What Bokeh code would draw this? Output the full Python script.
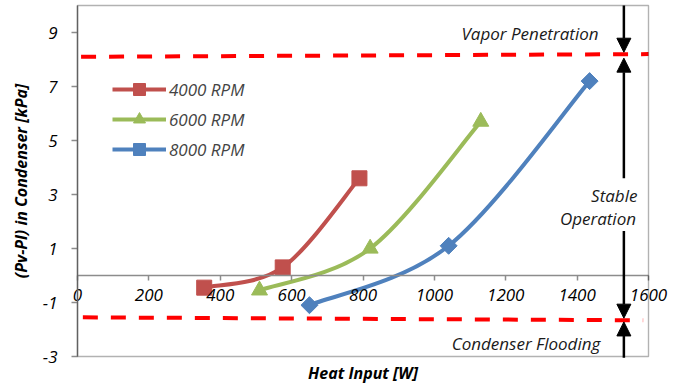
import numpy as np
from bokeh.plotting import figure
from bokeh.models import (ColumnDataSource, Range1d, FixedTicker, Legend, LegendItem,
                          Label, Arrow, NormalHead, BoxAnnotation)
from bokeh.embed import file_html
from bokeh.resources import INLINE

# ---------------- data ----------------
series_labels = ["4000 RPM", "6000 RPM", "8000 RPM"]
x_4000 = [355, 575, 790]
y_4000 = [-0.45, 0.3, 3.6]
x_6000 = [510, 820, 1130]
y_6000 = [-0.55, 1.0, 5.7]
x_8000 = [650, 1040, 1435]
y_8000 = [-1.1, 1.1, 7.2]
x_ticks = [0, 200, 400, 600, 800, 1000, 1200, 1400, 1600]
x_tick_labels = ["0", "200", "400", "600", "800", "1000", "1200", "1400", "1600"]
y_ticks = [-3, -1, 1, 3, 5, 7, 9]
y_tick_labels = ["-3", "-1", "1", "3", "5", "7", "9"]
x_lo, x_hi = 0, 1600
y_lo, y_hi = -3, 10
x_title = "Heat Input [W]"
y_title = "(Pv-Pl) in Condenser [kPa]"

vapor_x = [10, 1600]
vapor_y = [8.1, 8.2]
flood_x = [15, 1585]
flood_y = [-1.55, -1.66]

arrow_x = 1531
arrow_starts = [10.0, 3.6, 1.65, -3.05]
arrow_ends = [8.27, 8.05, -1.58, -1.72]

ann_texts = ["Vapor Penetration", "Stable", "Operation", "Condenser Flooding"]
ann_x = [1460, 1569, 1565, 1465]
ann_y = [8.96, 2.96, 2.11, -2.52]

colors = ["#C0504D", "#9BBB59", "#4F81BD"]
FONT = "Open Sans"

# ---------------- layout (pixels) ----------------
W, H = 679, 385
AREA_L, AREA_R = 77, 648      # plot-area box, page pixels
AREA_T, AREA_B = 5, 356
# the drawing frame covers the whole canvas, so no text is cut at the box edges
ppx = (AREA_R - AREA_L) / (x_hi - x_lo)
ppy = (AREA_B - AREA_T) / (y_hi - y_lo)
fx0 = x_lo - AREA_L / ppx
fx1 = x_hi + (W - AREA_R) / ppx
fy0 = y_lo - (H - AREA_B) / ppy
fy1 = y_hi + AREA_T / ppy


def bezier_source(xs, ys):
    xs = np.asarray(xs, float)
    ys = np.asarray(ys, float)
    n = len(xs)
    d = dict(x0=[], y0=[], x1=[], y1=[], cx0=[], cy0=[], cx1=[], cy1=[])
    for i in range(n - 1):
        pm = max(i - 1, 0)
        pp = min(i + 2, n - 1)
        d["x0"].append(xs[i]); d["y0"].append(ys[i])
        d["x1"].append(xs[i + 1]); d["y1"].append(ys[i + 1])
        d["cx0"].append(xs[i] + (xs[i + 1] - xs[pm]) / 6)
        d["cy0"].append(ys[i] + (ys[i + 1] - ys[pm]) / 6)
        d["cx1"].append(xs[i + 1] - (xs[pp] - xs[i]) / 6)
        d["cy1"].append(ys[i + 1] - (ys[pp] - ys[i]) / 6)
    return ColumnDataSource(d)


p = figure(width=W, height=H, output_backend="svg", toolbar_location=None,
           x_range=Range1d(fx0, fx1), y_range=Range1d(fy0, fy1),
           min_border_left=0, min_border_right=0, min_border_top=0, min_border_bottom=0)
p.xgrid.visible = False
p.ygrid.visible = False
p.outline_line_color = None
p.background_fill_color = "white"
p.border_fill_color = "white"

# plot-area border
p.add_layout(BoxAnnotation(left=x_lo, right=x_hi, bottom=y_lo, top=y_hi,
                           fill_alpha=0, line_color="black", line_width=1.4))

# axes (both drawn inside the frame at data zero)
p.xaxis.fixed_location = 0
p.yaxis.fixed_location = 0
p.xaxis.bounds = (x_lo, x_hi)
p.yaxis.bounds = (y_lo, y_hi)
p.xaxis.ticker = FixedTicker(ticks=x_ticks)
p.yaxis.ticker = FixedTicker(ticks=y_ticks)
p.xaxis.major_label_overrides = {t: s for t, s in zip(x_ticks, x_tick_labels)}
p.yaxis.major_label_overrides = {t: s for t, s in zip(y_ticks, y_tick_labels)}
for ax in (p.xaxis, p.yaxis):
    ax.axis_line_color = "#8C8C8C"
    ax.axis_line_width = 1.5
    ax.major_tick_line_color = "#8C8C8C"
    ax.major_tick_line_width = 1.5
    ax.minor_tick_line_color = None
    ax.major_tick_in = 0
    ax.major_label_text_font = FONT
    ax.major_label_text_font_style = "italic"
    ax.major_label_text_font_size = "17px"
    ax.major_label_text_color = "black"
p.xaxis.major_tick_out = 5
p.xaxis.major_label_standoff = 8
p.yaxis.major_tick_out = 6
p.yaxis.major_label_standoff = 14

# axis titles
p.add_layout(Label(x=(x_lo + x_hi) / 2, y=y_lo, y_offset=-16, text=x_title,
                   text_align="center", text_baseline="middle", text_font=FONT,
                   text_font_style="bold italic", text_font_size="16px", text_color="black"))
p.add_layout(Label(x=x_lo, y=(y_lo + y_hi) / 2, x_offset=-57, text=y_title, angle=np.pi / 2,
                   text_align="center", text_baseline="middle", text_font=FONT,
                   text_font_style="bold italic", text_font_size="16px", text_color="black"))

# dashed limit lines
p.line(vapor_x, vapor_y, line_color="#FF0000", line_width=4, line_dash="15 13")
p.line(flood_x, flood_y, line_color="#FF0000", line_width=4, line_dash="15 13")

# series
items = []
markers = ["square", "triangle", "square"]
angles = [0, 0, np.pi / 4]
sizes = [15, 16, 12]
for lbl, xs, ys, col, mk, ang, sz in zip(series_labels, [x_4000, x_6000, x_8000],
                                        [y_4000, y_6000, y_8000], colors, markers, angles, sizes):
    src = bezier_source(xs, ys)
    br = p.bezier(x0="x0", y0="y0", x1="x1", y1="y1", cx0="cx0", cy0="cy0",
                  cx1="cx1", cy1="cy1", source=src, line_color=col, line_width=4)
    sr = p.scatter(xs, ys, marker=mk, size=sz, angle=ang, fill_color=col, line_color=col)
    items.append(LegendItem(label=lbl, renderers=[br, sr]))

legend = Legend(items=items, location=(35 + AREA_L, 192 + H - AREA_B), orientation="vertical",
                background_fill_alpha=0, border_line_color=None,
                label_text_font=FONT, label_text_font_style="italic",
                label_text_font_size="17px", glyph_width=54, glyph_height=30,
                label_height=20, spacing=0, padding=0, margin=0, label_standoff=3)
p.add_layout(legend)

# arrows
for s, e in zip(arrow_starts, arrow_ends):
    p.add_layout(Arrow(end=NormalHead(size=14, fill_color="black", line_color="black"),
                       x_start=arrow_x, y_start=s, x_end=arrow_x, y_end=e,
                       line_color="black", line_width=2.5))

# annotation texts
for t, x, y in zip(ann_texts, ann_x, ann_y):
    p.add_layout(Label(x=x, y=y, text=t, text_align="right", text_baseline="middle",
                       text_font=FONT, text_font_style="italic", text_font_size="17px",
                       text_color="#1a1a1a"))

open("out.html", "w").write(file_html(p, INLINE))
